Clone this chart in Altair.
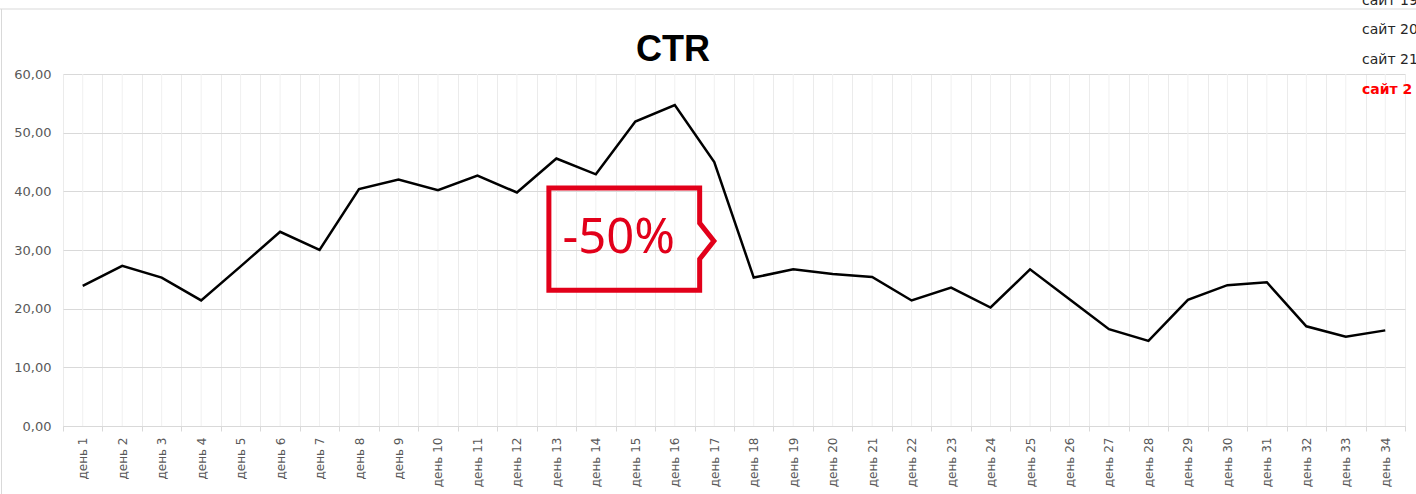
import altair as alt
import pandas as pd

# ---- data ----
day_labels = ["день 1", "день 2", "день 3", "день 4", "день 5", "день 6", "день 7", "день 8",
              "день 9", "день 10", "день 11", "день 12", "день 13", "день 14", "день 15",
              "день 16", "день 17", "день 18", "день 19", "день 20", "день 21", "день 22",
              "день 23", "день 24", "день 25", "день 26", "день 27", "день 28", "день 29",
              "день 30", "день 31", "день 32", "день 33", "день 34"]
ctr_values = [23.9, 27.3, 25.3, 21.4, 27.2, 33.1, 30.0, 40.4, 42.0, 40.2, 42.7, 39.8,
              45.6, 42.9, 51.9, 54.7, 45.0, 25.3, 26.7, 25.9, 25.4, 21.4, 23.6, 20.2,
              26.7, 21.6, 16.5, 14.5, 21.5, 24.0, 24.5, 17.0, 15.2, 16.3]
y_ticks = [0, 10, 20, 30, 40, 50, 60]
legend_items = ["сайт 19", "сайт 20", "сайт 21", "сайт 2"]
callout_text = "-50%"
# callout outline, in data units (day index, CTR value)
callout_x = [12.81, 16.63, 16.63, 16.99, 16.63, 16.63, 12.81, 12.81, 16.63]
callout_y = [40.57, 40.57, 34.6, 31.53, 28.46, 23.13, 23.13, 40.57, 40.57]
callout_text_pos = (14.58, 29.5)

n_days = len(day_labels)
df = pd.DataFrame({"n": list(range(1, n_days + 1)), "day": day_labels, "ctr": ctr_values})
boundaries = [i + 0.5 for i in range(0, n_days + 1)]

W, H = 1342, 352
band = W / n_days

xscale = alt.Scale(domain=[0.5, n_days + 0.5], nice=False, zero=False)
yscale = alt.Scale(domain=[0, 60], nice=False)

xaxis = alt.Axis(
    values=boundaries, title=None, grid=True, gridColor="#ebebeb", gridWidth=1,
    ticks=True, tickColor="#d9d9d9", tickSize=5, domain=True, domainColor="#d9d9d9",
    labelAngle=-90, labelFont="DejaVu Sans", labelFontSize=12, labelColor="#595959",
    labelOffset=band / 2, labelPadding=6, labelOverlap=False, labelBound=False,
    labelFlush=False,
    labelExpr="datum.value < %d ? 'день ' + (datum.value + 0.5) : ''" % n_days,
)
yaxis = alt.Axis(
    values=y_ticks, title=None, grid=True, gridColor="#d9d9d9", gridWidth=1,
    ticks=False, domain=False, labelFont="DejaVu Sans", labelFontSize=13,
    labelColor="#595959", labelPadding=12,
    labelExpr="replace(format(datum.value, '.2f'), '.', ',')",
)

base = alt.Chart(df)

center_grid = base.mark_rule(color="#f0f0f0", strokeWidth=1).encode(
    x=alt.X("n:Q", scale=xscale, axis=xaxis)
)

line = base.mark_line(color="black", strokeWidth=2.5).encode(
    x=alt.X("n:Q", scale=xscale, axis=xaxis),
    y=alt.Y("ctr:Q", scale=yscale, axis=yaxis),
)

cdf = pd.DataFrame({"cx": callout_x, "cy": callout_y, "o": list(range(len(callout_x)))})
callout = alt.Chart(cdf).mark_line(
    color="#E2001A", strokeWidth=5, strokeJoin="miter", strokeCap="butt"
).encode(
    x=alt.X("cx:Q", scale=xscale, axis=xaxis),
    y=alt.Y("cy:Q", scale=yscale, axis=yaxis),
    order="o:Q",
)

tdf = pd.DataFrame({"tx": [callout_text_pos[0]], "ty": [callout_text_pos[1]], "t": [callout_text]})
callout_label = alt.Chart(tdf).mark_text(
    font="Noto Sans", fontSize=49, color="#E2001A", align="center", baseline="alphabetic"
).encode(
    x=alt.X("tx:Q", scale=xscale, axis=xaxis),
    y=alt.Y("ty:Q", scale=yscale, axis=yaxis),
    text="t:N",
)

title = alt.Chart(pd.DataFrame({"t": ["CTR"]})).mark_text(
    font="Liberation Sans", fontSize=36, fontWeight="bold", color="black",
    align="center", baseline="alphabetic"
).encode(text="t:N", x=alt.value(610), y=alt.value(-13))

legend_layers = []
leg_y = [-69, -40, -10.5, 19.5]
for i, name in enumerate(legend_items):
    last = i == len(legend_items) - 1
    legend_layers.append(
        alt.Chart(pd.DataFrame({"t": [name]})).mark_text(
            font="DejaVu Sans", fontSize=14, align="left", baseline="alphabetic",
            color="#FF0000" if last else "#262626",
            fontWeight="bold" if last else "normal",
        ).encode(text="t:N", x=alt.value(1299), y=alt.value(leg_y[i]))
    )

border_top = alt.Chart(pd.DataFrame({"a": [0]})).mark_rule(color="#d9d9d9", strokeWidth=1).encode(
    x=alt.value(-63), x2=alt.value(1353), y=alt.value(-65)
)
border_left = alt.Chart(pd.DataFrame({"a": [0]})).mark_rule(color="#d9d9d9", strokeWidth=1).encode(
    x=alt.value(-61.5), y=alt.value(-65), y2=alt.value(420)
)

chart = alt.layer(
    center_grid, line, callout, callout_label, title, *legend_layers, border_top, border_left
).properties(
    width=W, height=H,
    padding={"left": 63, "top": 74, "right": 11, "bottom": 68},
    autosize=alt.AutoSizeParams(type="none"),
    background="white",
).configure_view(stroke=None)

chart.save("out.html", embed_options={"renderer": "svg", "actions": False})
